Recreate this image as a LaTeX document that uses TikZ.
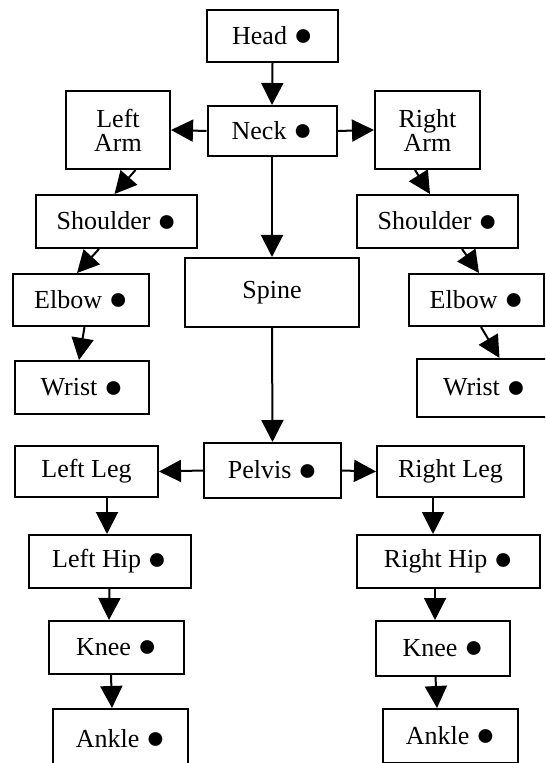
\documentclass[tikz,border=0pt]{standalone}
\usepackage{fontspec}
\setmainfont{Liberation Serif}
\usetikzlibrary{arrows.meta,calc}
\newcommand{\jdot}{\raisebox{-0.15ex}{\fontsize{16}{12}\selectfont ●}}

\begin{document}
\begin{tikzpicture}[x=0.5pt,y=-0.5pt,>={Triangle[length=11pt,width=11pt]},line width=1pt,
  part/.style={draw=black,line width=1pt,fill=white,align=center,inner sep=2pt,font=\fontsize{13}{12}\selectfont}]
\clip (0,0) rectangle (545,763);
\node[part,minimum width=65.5pt,minimum height=26pt] (head) at (272.5,36) {Head \jdot};
\node[part,minimum width=64.5pt,minimum height=25pt] (neck) at (272,131) {Neck \jdot};
\node[part,minimum width=52pt,minimum height=39pt] (larm) at (118,130) {Left\\Arm};
\node[part,minimum width=52.5pt,minimum height=39pt] (rarm) at (427.5,130) {Right\\Arm};
\node[part,minimum width=80.5pt,minimum height=26.5pt] (lsh) at (116.5,221.5) {Shoulder \jdot};
\node[part,minimum width=80.5pt,minimum height=26.5pt] (rsh) at (437.5,221.5) {Shoulder \jdot};
\node[part,minimum width=87pt,minimum height=34.5pt] (spine) at (272,292.5) {Spine};
\node[part,minimum width=68pt,minimum height=26pt] (lel) at (81,300) {Elbow \jdot};
\node[part,minimum width=67.5pt,minimum height=26pt] (rel) at (476.5,300) {Elbow \jdot};
\node[part,minimum width=67pt,minimum height=26.5pt] (lwr) at (82,387.5) {Wrist \jdot};
\node[part,minimum width=67.5pt,minimum height=29pt] (rwr) at (484.5,388) {Wrist \jdot};
\node[part,minimum width=68.5pt,minimum height=27.5pt] (pelvis) at (272.5,470.5) {Pelvis \jdot};
\node[part,minimum width=71.5pt,minimum height=25.5pt] (lleg) at (86.5,471.5) {Left Leg};
\node[part,minimum width=73.5pt,minimum height=25.5pt] (rleg) at (450.5,471.5) {Right Leg};
\node[part,minimum width=81pt,minimum height=26.5pt] (lhip) at (109.5,561.5) {Left Hip \jdot};
\node[part,minimum width=91.5pt,minimum height=26.5pt] (rhip) at (448.5,561.5) {Right Hip \jdot};
\node[part,minimum width=67.5pt,minimum height=26.5pt] (lkn) at (116.5,647.5) {Knee \jdot};
\node[part,minimum width=67pt,minimum height=27.5pt] (rkn) at (443,648.5) {Knee \jdot};
\node[part,minimum width=67.5pt,minimum height=30pt] (lank) at (120.5,739) {Ankle \jdot};
\node[part,minimum width=67.5pt,minimum height=27pt] (rank) at (450.5,736) {Ankle \jdot};
\draw[->] (head.south)--(neck.north);
\draw[->] (neck.west)--(larm.east);
\draw[->] (neck.east)--(rarm.west);
\draw[->] (neck.south)--(spine.north);
\draw[->] ($(larm.south)+(17.5,0)$)--($(lsh.north)+(-2,0)$);
\draw[->] ($(rarm.south)+(-12.5,0)$)--($(rsh.north)+(-7.5,0)$);
\draw[->] ($(lsh.south)+(-17.5,0)$)--($(lel.north)+(-4,0)$);
\draw[->] ($(rsh.south)+(24.5,0)$)--($(rel.north)+(2.5,0)$);
\draw[->] ($(lel.south)+(3.5,0)$)--($(lwr.north)+(-3,0)$);
\draw[->] ($(rel.south)+(4.5,0)$)--($(rwr.north)+(15,0)$);
\draw[->] (spine.south)--(pelvis.north);
\draw[->] (pelvis.west)--(lleg.east);
\draw[->] (pelvis.east)--(rleg.west);
\draw[->] ($(lleg.south)+(20.5,0)$)--($(lhip.north)+(-2.5,0)$);
\draw[->] ($(rleg.south)+(-17.5,0)$)--($(rhip.north)+(-15.5,0)$);
\draw[->] (lhip.south)--($(lkn.north)+(-7.5,0)$);
\draw[->] ($(rhip.south)+(-13.5,0)$)--($(rkn.north)+(-8,0)$);
\draw[->] ($(lkn.south)+(-5.5,0)$)--($(lank.north)+(-8.5,0)$);
\draw[->] ($(rkn.south)+(-7.5,0)$)--($(rank.north)+(-13.5,0)$);
\end{tikzpicture}
\end{document}
